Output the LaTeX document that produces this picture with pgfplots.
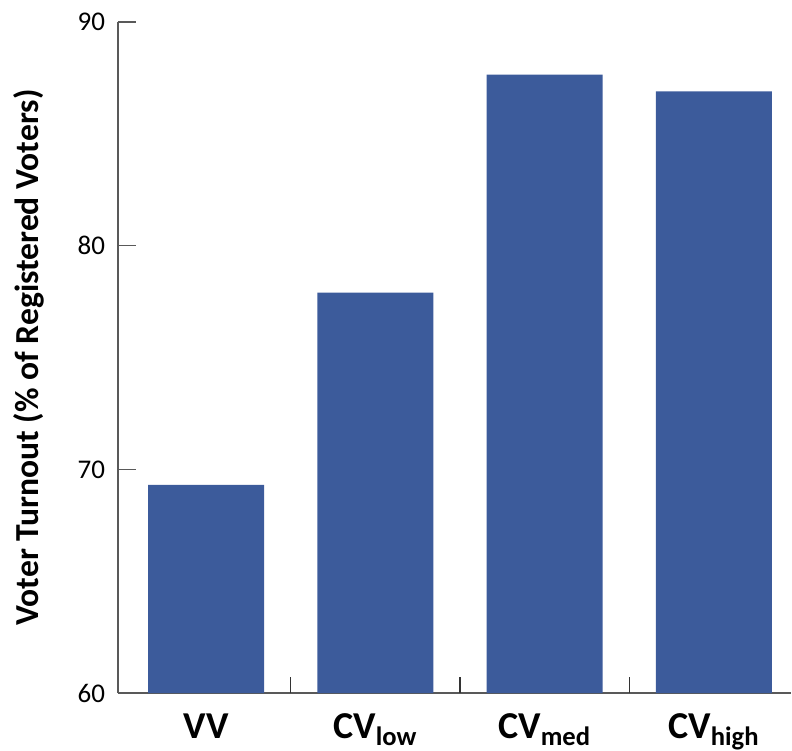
\documentclass[border=0pt]{standalone}
\usepackage{fontspec}
\setmainfont{Carlito}
\usepackage{pgfplots}
\pgfplotsset{compat=1.18}
\definecolor{barblue}{RGB}{60,91,155}
\begin{document}
\begin{tikzpicture}
	\begin{axis}[
		name = main,
		scale only axis,
		width = 336.5pt,
		height = 335.5pt,
		ybar,
		bar width = 58pt,
		bar shift = 0pt,
		xmin = -0.52, xmax = 3.455,
		ymin = 60, ymax = 90,
		ytick = {60, 70, 80, 90},
		xtick = {0, 1, 2, 3},
		xticklabels = {VV, CV\textsubscript{low}, CV\textsubscript{med}, CV\textsubscript{high}},
		extra x ticks = {0.5, 1.5, 2.5},
		extra x tick labels = {},
		extra x tick style = {major tick length = 8pt, major x tick style = {draw = black!80, line width = 0.6pt}},
		major x tick style = {draw = none},
		axis x line = bottom,
		axis y line = left,
		axis line style = {-, black!65, line width = 0.8pt},
		tick align = inside,
		major tick length = 9pt,
		ytick style = {black!65, line width = 0.8pt},
		/pgf/number format/assume math mode = true,
		yticklabel style = {font = \fontsize{13.5}{15}\selectfont, xshift = -3pt},
		xticklabel style = {font = \fontsize{19}{21}\selectfont\bfseries, yshift = -7pt},
		ylabel = {Voter Turnout (\% of Registered Voters)},
		ylabel style = {font = \fontsize{16.8}{18}\selectfont\bfseries, yshift = 10pt},
	]
		\addplot[fill = barblue, draw = none] coordinates {
		( 0, 69.3 )
		( 1, 77.9 )
		( 2, 87.65 )
		( 3, 86.9 )
		};
	\end{axis}
	\pgfresetboundingbox
	\path (main.south west) ++(-59pt, -28.5pt) rectangle ++(396pt, 375pt);
\end{tikzpicture}
\end{document}
